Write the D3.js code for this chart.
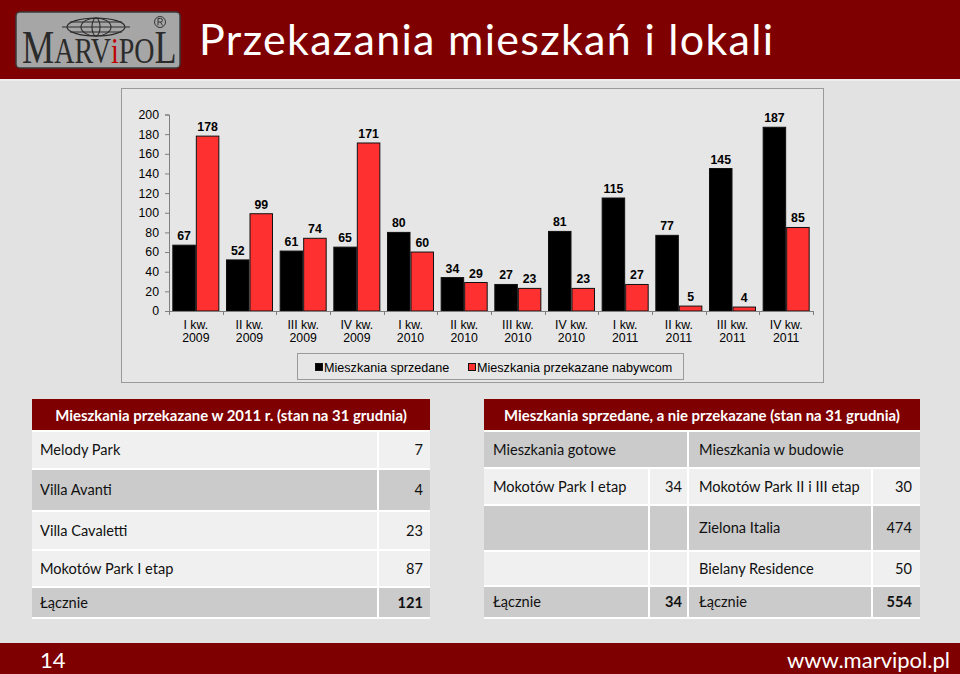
<!DOCTYPE html>
<html><head><meta charset="utf-8">
<script src="https://cdn.jsdelivr.net/npm/d3@7"></script>
<style>body{margin:0;background:#e2e2e2;}svg{display:block}</style>
</head><body>
<svg id="c" width="960" height="674"></svg>
<script>
// ---------- DATA ----------
const categories = ["I kw. 2009","II kw. 2009","III kw. 2009","IV kw. 2009","I kw. 2010","II kw. 2010","III kw. 2010","IV kw. 2010","I kw. 2011","II kw. 2011","III kw. 2011","IV kw. 2011"];
const seriesNames = ["Mieszkania sprzedane","Mieszkania przekazane nabywcom"];
const sold   = [67,52,61,65,80,34,27,81,115,77,145,187];
const handed = [178,99,74,171,60,29,23,23,27,5,4,85];
const yTicks = [0,20,40,60,80,100,120,140,160,180,200];

const pageTitle = "Przekazania mieszkań i lokali";
const pageNumber = "14";
const siteUrl = "www.marvipol.pl";

const leftTitle = "Mieszkania przekazane w 2011 r. (stan na 31 grudnia)";
const leftNames = ["Melody Park","Villa Avanti","Villa Cavaletti","Mokotów Park I etap","Łącznie"];
const leftValues = [7,4,23,87,121];

const rightTitle = "Mieszkania sprzedane, a nie przekazane (stan na 31 grudnia)";
const rightHeads = ["Mieszkania gotowe","Mieszkania w budowie"];
const readyNames = ["Mokotów Park I etap","",""];
const readyValues = [34,null,null];
const buildNames = ["Mokotów Park II i III etap","Zielona Italia","Bielany Residence"];
const buildValues = [30,474,50];
const totalLabel = "Łącznie";
const totals = [34,554];

// ---------- STYLE / LAYOUT ----------
const RED = "#7f0000";
const svg = d3.select("#c");
const UI = "Lato, 'Open Sans', sans-serif";
const AR = "'Liberation Sans', Arial, sans-serif";

svg.append("rect").attr("width",960).attr("height",674).attr("fill","#e2e2e2");
svg.append("rect").attr("width",960).attr("height",79).attr("fill",RED);
svg.append("rect").attr("y",79).attr("width",960).attr("height",2).attr("fill","#eeeeee");
svg.append("rect").attr("y",643).attr("width",960).attr("height",31).attr("fill",RED);

// Logo
const logo = svg.append("g");
logo.append("rect").attr("x",16).attr("y",12).attr("width",164).attr("height",56).attr("rx",4)
  .attr("fill","#a6a6a6").attr("stroke","#3a3a3a").attr("stroke-width",1.5);
const gl = logo.append("g").attr("fill","none").attr("stroke","#2a2a2a").attr("stroke-width",1.1);
gl.append("ellipse").attr("cx",96).attr("cy",27).attr("rx",29).attr("ry",9);
gl.append("ellipse").attr("cx",96).attr("cy",27).attr("rx",15).attr("ry",9);
gl.append("ellipse").attr("cx",96).attr("cy",27).attr("rx",4).attr("ry",9);
gl.append("line").attr("x1",62).attr("x2",130).attr("y1",27).attr("y2",27);
gl.append("line").attr("x1",70).attr("x2",122).attr("y1",22).attr("y2",22);
gl.append("line").attr("x1",70).attr("x2",122).attr("y1",32).attr("y2",32);
// registered mark drawn as shapes
const rg = logo.append("g").attr("fill","none").attr("stroke","#2a2a2a").attr("stroke-width",0.9);
rg.append("circle").attr("cx",160).attr("cy",22).attr("r",5.5);
rg.append("path").attr("d","M158,25.5V18.5H160.5Q162.5,18.5 162.5,20.3Q162.5,22 160.5,22H158M160.5,22L162.5,25.5");
const lt = logo.append("text").attr("x",0).attr("y",0)
  .attr("font-family","'Liberation Serif','DejaVu Serif',serif").attr("fill","#2b2b2b");
[["M",44,"#2b2b2b"],["ARV",34,"#2b2b2b"],["i",34,"#c00000"],["PO",34,"#2b2b2b"],["L",44,"#2b2b2b"]]
  .forEach(([t,s,c])=>lt.append("tspan").attr("font-size",s).attr("fill",c).text(t));
const lw = lt.node().getComputedTextLength();
lt.attr("transform",`translate(22,63) scale(${153/lw},1.07)`);

// Title
svg.append("text").attr("x",199).attr("y",55).attr("font-family","Lato, 'Open Sans', sans-serif").attr("font-size",43)
  .attr("textLength",574).attr("lengthAdjust","spacing")
  .attr("fill","#fff").text(pageTitle);

// Footer
svg.append("text").attr("x",40).attr("y",668).attr("font-family",UI).attr("font-size",22).attr("fill","#fff").text(pageNumber);
svg.append("text").attr("x",950).attr("y",668).attr("text-anchor","end").attr("font-family",UI).attr("font-size",22).attr("fill","#fff").text(siteUrl);

// ---------- CHART ----------
svg.append("rect").attr("x",121.5).attr("y",88.5).attr("width",702).attr("height",294)
  .attr("fill","#e6e6e6").attr("stroke","#9a9a9a");

const x0 = d3.scaleBand().domain(categories).range([169,813]).paddingInner(0.124).paddingOuter(0.062);
const x1 = d3.scaleBand().domain(seriesNames).range([0,x0.bandwidth()]);
const y = d3.scaleLinear().domain([0,200]).range([311,114.5]);
const colors = d3.scaleOrdinal().domain(seriesNames).range(["#000000","#ff3030"]);
const data = categories.map((c,i)=>({cat:c, vals:[{s:seriesNames[0],v:sold[i]},{s:seriesNames[1],v:handed[i]}]}));

const yAxis = svg.append("g").attr("transform","translate(169,0)")
  .call(d3.axisLeft(y).tickValues(yTicks).tickSize(4).tickPadding(6));
yAxis.selectAll("text").attr("font-family",AR).attr("font-size",12.3).attr("fill","#000");
yAxis.selectAll("line,path").attr("stroke","#7f7f7f");

const groups = svg.append("g").selectAll("g").data(data).join("g")
  .attr("transform",d=>`translate(${x0(d.cat)},0)`);
groups.selectAll("rect").data(d=>d.vals).join("rect")
  .attr("x",d=>x1(d.s)+0.5).attr("width",x1.bandwidth()-1)
  .attr("y",d=>y(d.v)).attr("height",d=>y(0)-y(d.v))
  .attr("fill",d=>colors(d.s)).attr("stroke","#111").attr("stroke-width",1);
groups.selectAll("text").data(d=>d.vals).join("text")
  .attr("x",d=>x1(d.s)+x1.bandwidth()/2).attr("y",d=>y(d.v)-5)
  .attr("text-anchor","middle").attr("font-family",AR).attr("font-weight","bold").attr("font-size",12.3)
  .text(d=>d.v);

// x axis
const xg = svg.append("g");
xg.append("line").attr("x1",169).attr("x2",813).attr("y1",311.5).attr("y2",311.5).attr("stroke","#7f7f7f");
const step = x0.step();
const bounds = d3.range(categories.length+1).map(i=>x0(categories[0]) - x0.paddingOuter()*step + i*step);
xg.selectAll("line.t").data(bounds).join("line").attr("class","t")
  .attr("x1",d=>Math.round(d)+0.5).attr("x2",d=>Math.round(d)+0.5).attr("y1",311).attr("y2",315).attr("stroke","#7f7f7f");
const xl = xg.selectAll("text").data(categories).join("text")
  .attr("text-anchor","middle").attr("font-family",AR).attr("font-size",12.3)
  .attr("transform",d=>`translate(${x0(d)+x0.bandwidth()/2},0)`);
xl.append("tspan").attr("x",0).attr("y",329).text(d=>d.slice(0,d.lastIndexOf(" ")));
xl.append("tspan").attr("x",0).attr("y",342).text(d=>d.slice(d.lastIndexOf(" ")+1));

// legend
svg.append("rect").attr("x",297.5).attr("y",353.5).attr("width",386).attr("height",26)
  .attr("fill","#e6e6e6").attr("stroke","#9a9a9a");
const legX = [315,468];
seriesNames.forEach((s,i)=>{
  svg.append("rect").attr("x",legX[i]+0.5).attr("y",363.5).attr("width",7).attr("height",7)
    .attr("fill",colors(s)).attr("stroke","#111");
  svg.append("text").attr("x",legX[i]+9).attr("y",372).attr("font-family",AR).attr("font-size",12.6).text(s);
});

// ---------- TABLES ----------
const LIGHT="#f0f0f0", GRAY="#cbcbcb";
function cell(x,y0,x2,y1,fill){ svg.append("rect").attr("x",x).attr("y",y0).attr("width",x2-x).attr("height",y1-y0).attr("fill",fill); }
function txt(x,yy,t,anchor,bold,fill){ svg.append("text").attr("x",x).attr("y",yy).attr("text-anchor",anchor||"start")
  .attr("font-family",UI).attr("font-size",14.6).attr("font-weight",bold?"bold":"normal").attr("fill",fill||"#111").text(t); }

// left
const lRows=[[432,468],[470,510],[512,549],[551,586],[588,617]];
const lFill=[LIGHT,GRAY,LIGHT,LIGHT,GRAY];
cell(32,399,430,430,RED);
svg.append("text").attr("x",231).attr("y",421).attr("text-anchor","middle").attr("font-family",UI)
  .attr("font-size",14.9).attr("font-weight","bold").attr("fill","#fff").text(leftTitle);
cell(32,430,430,619,"#ffffff");
lRows.forEach((r,i)=>{
  cell(32,r[0],377,r[1],lFill[i]); cell(379,r[0],430,r[1],lFill[i]);
  const yy=(r[0]+r[1])/2+5;
  txt(40,yy,leftNames[i]); txt(423,yy,leftValues[i],"end",i===leftNames.length-1);
});

// right
const rRows=[[432,467],[469,504],[506,550],[552,585],[587,617]];
const rFill=[GRAY,LIGHT,GRAY,LIGHT,GRAY];
const cols=[[484,648],[650,687],[689,871],[873,920]];
cell(484,399,920,430,RED);
svg.append("text").attr("x",702).attr("y",421).attr("text-anchor","middle").attr("font-family",UI)
  .attr("font-size",14.9).attr("font-weight","bold").attr("fill","#fff").text(rightTitle);
cell(484,430,920,619,"#ffffff");
cell(484,rRows[0][0],687,rRows[0][1],GRAY); cell(689,rRows[0][0],920,rRows[0][1],GRAY);
txt(493,(rRows[0][0]+rRows[0][1])/2+5,rightHeads[0]); txt(699,(rRows[0][0]+rRows[0][1])/2+5,rightHeads[1]);
for(let i=1;i<rRows.length;i++){
  const r=rRows[i]; cols.forEach(c=>cell(c[0],r[0],c[1],r[1],rFill[i]));
  const yy=(r[0]+r[1])/2+5;
  if(i<4){
    if(readyNames[i-1]) txt(493,yy,readyNames[i-1]);
    if(readyValues[i-1]!=null) txt(682,yy,readyValues[i-1],"end");
    txt(699,yy,buildNames[i-1]); txt(912,yy,buildValues[i-1],"end");
  } else {
    txt(493,yy,totalLabel); txt(682,yy,totals[0],"end",true);
    txt(699,yy,totalLabel); txt(912,yy,totals[1],"end",true);
  }
}
</script>
</body></html>
